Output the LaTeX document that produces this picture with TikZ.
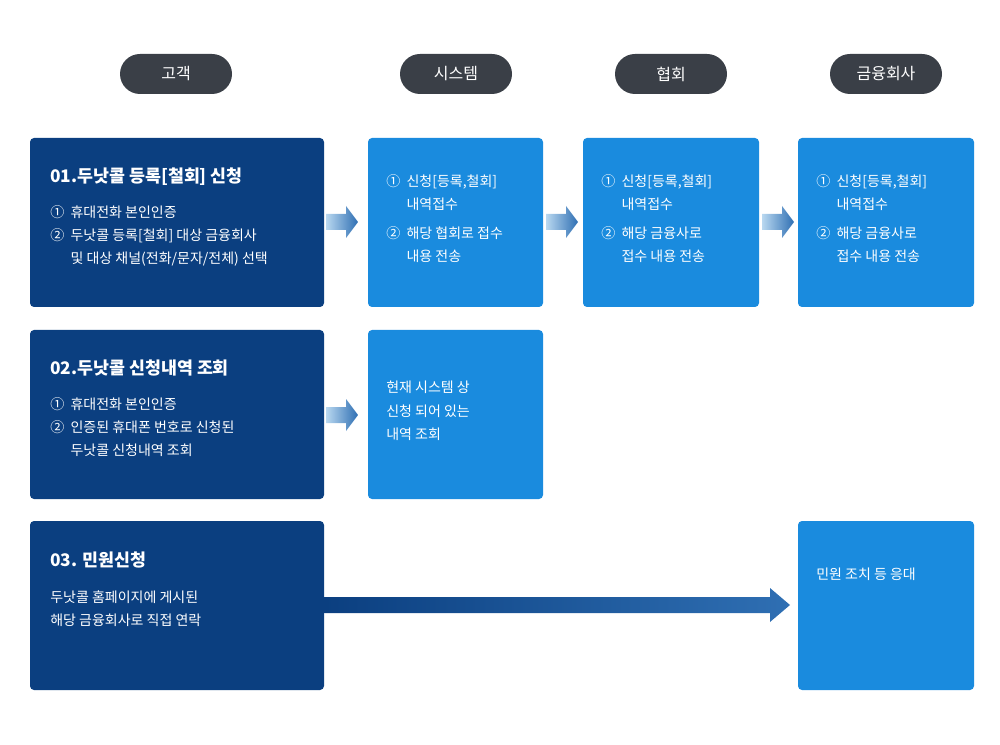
\documentclass[tikz,border=0pt]{standalone}
\usepackage{fontspec}
\setmainfont{Noto Sans CJK KR}
\usetikzlibrary{positioning}
\definecolor{pill}{HTML}{3A3F47}
\definecolor{dk}{HTML}{0B3F80}
\definecolor{lt}{HTML}{1A8BDE}
\definecolor{ar1}{HTML}{B9D8F0}
\definecolor{ar2}{HTML}{2F6FB3}
\begin{document}
\begin{tikzpicture}[x=0.75pt,y=-0.75pt,
 pillst/.style={fill=pill,rounded corners=10pt,text=white,font=\fontsize{12}{14}\selectfont},
 dkbox/.style={fill=dk,rounded corners=3pt},
 ltbox/.style={fill=lt,rounded corners=3pt},
 ttl/.style={anchor=north west,text=white,font=\fontsize{13}{16}\selectfont\bfseries,inner sep=0},
 txt/.style={anchor=north west,text=white,font=\fontsize{10.5}{17.5}\selectfont,inner sep=0,align=left}]
\useasboundingbox (0,0) rectangle (1000,745);
% pills
\foreach \n/\x/\t in {p1/176/고객,p2/456/시스템,p3/671/협회,p4/886/금융회사}{
  \fill[pill,rounded corners=20*0.75pt] (\x-56,54) rectangle (\x+56,94);
  \node[text=white,font=\fontsize{12}{14}\selectfont] (\n) at (\x,74) {\t};}
% boxes
\fill[dkbox] (30,138) rectangle (324,307);
\fill[ltbox] (368,138) rectangle (543,307);
\fill[ltbox] (583,138) rectangle (759,307);
\fill[ltbox] (798,138) rectangle (974,307);
\fill[dkbox] (30,330) rectangle (324,499);
\fill[ltbox] (368,330) rectangle (543,499);
\fill[dkbox] (30,521) rectangle (324,690);
\fill[ltbox] (798,521) rectangle (974,690);
% texts
\node[ttl] (t1) at (50,168) {01.두낫콜 등록[철회] 신청};
\node[txt] (i1) at (50,205) {①\ \ 휴대전화 본인인증\\②\ \ 두낫콜 등록[철회] 대상 금융회사\\\phantom{②\ \ }및 대상 채널(전화/문자/전체) 선택};
\node[txt] (s1) at (386,174) {①\ \ 신청[등록,철회]\\\phantom{①\ \ }내역접수\\[4pt]②\ \ 해당 협회로 접수\\\phantom{②\ \ }내용 전송};
\node[txt] (s2) at (601,174) {①\ \ 신청[등록,철회]\\\phantom{①\ \ }내역접수\\[4pt]②\ \ 해당 금융사로\\\phantom{②\ \ }접수 내용 전송};
\node[txt] (s3) at (816,174) {①\ \ 신청[등록,철회]\\\phantom{①\ \ }내역접수\\[4pt]②\ \ 해당 금융사로\\\phantom{②\ \ }접수 내용 전송};
\node[ttl] (t2) at (50,360) {02.두낫콜 신청내역 조회};
\node[txt] (i2) at (50,397) {①\ \ 휴대전화 본인인증\\②\ \ 인증된 휴대폰 번호로 신청된\\\phantom{②\ \ }두낫콜 신청내역 조회};
\node[txt] (s4) at (386,381) {현재 시스템 상\\신청 되어 있는\\내역 조회};
\node[ttl] (t3) at (50,552) {03. 민원신청};
\node[txt] (i3) at (50,590) {두낫콜 홈페이지에 게시된\\해당 금융회사로 직접 연락};
\node[txt] (s5) at (816,568) {민원 조치 등 응대};
% small arrows
\foreach \a/\y in {326/222,546/222,762/222,326/415}{
  \shade[left color=ar1,right color=ar2]
   (\a,\y-8) -- (\a+20,\y-8) -- (\a+20,\y-16) -- (\a+32,\y) -- (\a+20,\y+16) -- (\a+20,\y+8) -- (\a,\y+8) -- cycle;}
% long arrow
\shade[left color=dk,right color=ar2]
 (324,597) -- (770,597) -- (770,588) -- (790,605) -- (770,622) -- (770,613) -- (324,613) -- cycle;
\end{tikzpicture}
\end{document}
